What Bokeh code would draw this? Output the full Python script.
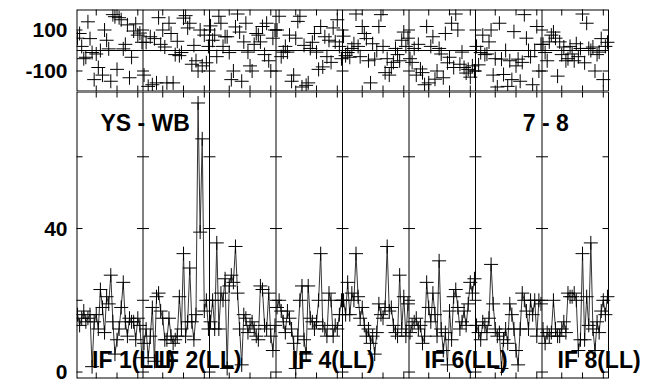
import numpy as np
from bokeh.plotting import figure
from bokeh.models import Range1d, LinearAxis, FixedTicker, Label, Span
from bokeh.layouts import column
from bokeh.embed import file_html
from bokeh.resources import INLINE

# ---------------- data ----------------
n_if = 8
n_chan = 32
channels = list(range(1, n_chan + 1))

amp_if1 = [16, 13, 15, 17, 14, 15, 16, 1.5, 14, 16, 12, 23, 18, 11, 21, 19, 27, 14, 5, 9, 12, 18, 25, 14, 10, 15, 14, 14, 9, 15, 13, 4]
amp_if2 = [8, 12, 4, 10, 18, 3, 21, 22, 17, 15, 9, 9, 15, 10, 8, 9, 10, 21, 12, 33, 10, 14, 29, 14, 9, 16, 75, 39, 65, 17, 20, 12]
amp_if3 = [14, 20, 12, 36, 12, 22, 20, 26, 1, 24, 27, 25, 35, 22, 12, 2, 16, 15, 11, 13, 14, 12, 10, 9, 24, 23, 13, 12, 22, 10, 6, 13]
amp_if4 = [18, 20, 17, 14, 11, 17, 15, 12, 8, 1, 10, 20, 24, 9, 5, 24, 15, 14, 12, 14, 20, 33, 13, 12, 10, 22, 20, 10, 13, 12, 16, 20]
amp_if5 = [20, 16, 25, 16, 22, 20, 33, 21, 15, 18, 13, 10, 12, 8, 10, 5, 11, 19, 16, 15, 18, 35, 17, 18, 13, 11, 10, 27, 12, 21, 10, 19]
amp_if6 = [11, 13, 14, 15, 12, 13, 8, 10, 25, 18, 14, 22, 16, 10, 31, 12, 6, 11, 2, 17, 9, 21, 23, 18, 12, 14, 17, 13, 19, 25, 22, 26]
amp_if7 = [13, 11, 9, 14, 13, 11, 15, 30, 19, 12, 10, 11, 1, 9, 12, 8, 19, 16, 12, 6, 2, 12, 22, 20, 17, 12, 20, 16, 20, 10, 20, 19]
amp_if8 = [12, 8, 11, 10, 11, 20, 12, 10, 10, 12, 14, 11, 22, 21, 21, 22, 20, 6, 9, 33, 9, 21, 13, 36, 12, 6, 14, 11, 17, 20, 16, 21]

phase_if1 = [60, 83, 20, -40, -33, 140, 58, -10, -142, -17, -83, 0, -120, 100, 50, 8, -150, 175, 165, -92, 160, 150, 8, 30, 125, -133, -33, 95, 130, 75, 85, 40]
phase_if2 = [-120, 40, -175, 67, -167, 58, -158, 160, 30, 100, 17, -158, 133, 83, -158, -20, 45, -25, -10, 158, 170, 110, 133, -67, 25, -50, -100, 100, -75, 75, -60, 20]
phase_if3 = [120, 50, 75, -30, 167, 133, 20, 67, 67, -10, -142, -100, 115, 178, 90, -150, 42, 133, -8, -75, -100, 30, 83, 75, 42, 117, -20, 133, -50, -100, 60, 100]
phase_if4 = [100, 167, -30, -8, 20, -8, 75, -150, -120, 60, 142, 167, -178, 25, -170, -158, 10, 40, 83, -8, -92, 117, -80, 67, -30, 50, -58, 110, 42, 150, 20, -40]
phase_if5 = [70, -25, -10, -33, 10, 33, 178, 20, -30, 117, 83, 58, -50, -158, 33, -42, 0, 117, 175, 20, -108, -40, -120, -83, -58, 10, -20, -50, 50, 90, 20, 60]
phase_if6 = [-40, -58, 10, -120, 30, -90, -108, -167, 117, -158, 20, 67, -140, -100, 10, -17, -133, 83, -60, -33, 133, -83, 178, 100, -67, -8, -83, -110, -92, -130, -75, -100]
phase_if7 = [20, -70, -10, 75, -20, -17, 42, 100, -120, -40, -178, 133, -42, -117, 0, -175, -50, -142, 92, -75, -42, -150, -58, 175, 60, 0, -30, -167, 0, 117, -100, 30]
phase_if8 = [30, -10, -50, 42, 75, 90, 60, -125, 42, -20, 17, -50, -40, 20, -17, -50, 33, -30, 10, 178, -60, 133, 10, 0, 17, -100, -20, -8, 58, -142, 20, 40]

amp_by_if = [amp_if1, amp_if2, amp_if3, amp_if4, amp_if5, amp_if6, amp_if7, amp_if8]
phase_by_if = [phase_if1, phase_if2, phase_if3, phase_if4, phase_if5, phase_if6, phase_if7, phase_if8]

if_label_numbers = [1, 2, 4, 6, 8]
if_label_texts = ["IF 1(LL)", "IF 2(LL)", "IF 4(LL)", "IF 6(LL)", "IF 8(LL)"]
baseline_text = "YS - WB"
time_text = "7 - 8"

amp_tick_values = [0, 20, 40, 60]
amp_tick_labels = [0, 40]
phase_tick_values = [-100, 100]
phase_tick_labels = [-100, 100]
chan_tick_values = [10, 20, 30]

# ---------------- layout ----------------
FONT = "Liberation Sans"
W = 645
LEFT = 76
FRAME_W = 532          # pixel width of the 8 IF boxes
X0, X1 = 0.5, n_if * n_chan + 0.5
PX_PER_CH = FRAME_W / (X1 - X0)
# the plotting frame runs on to the page edge so the last label is not cut;
# the IF boxes themselves end at X1
X_END = X1 + (W - LEFT - FRAME_W) / PX_PER_CH
AMP_Y0, AMP_Y1 = -1.8, 78.2
PH_Y0, PH_Y1 = -200, 200

x_range = Range1d(X0, X_END)
boundaries = [k * n_chan + 0.5 for k in range(n_if + 1)]
chan_tick_x = [k * n_chan + c for k in range(n_if) for c in chan_tick_values]


def gx(k):
    return [k * n_chan + c for c in channels]


def make_fig(height, y0, y1, top, bottom, label_ticks, tick_values):
    p = figure(width=W, height=height, x_range=x_range, y_range=Range1d(y0, y1),
               output_backend="svg", toolbar_location=None,
               x_axis_location=None, y_axis_location=None,
               min_border_left=LEFT, min_border_right=0,
               min_border_top=top, min_border_bottom=bottom)
    p.xgrid.grid_line_color = None
    p.ygrid.grid_line_color = None
    p.outline_line_color = None
    p.background_fill_color = "white"
    p.border_fill_color = "white"
    ax = LinearAxis(ticker=FixedTicker(ticks=label_ticks))
    ax.major_label_overrides = {v: str(v) for v in label_ticks}
    ax.major_tick_in = 0
    ax.major_tick_out = 0
    ax.minor_tick_line_color = None
    ax.axis_line_color = None
    ax.major_label_standoff = 9
    ax.major_label_text_font = FONT
    ax.major_label_text_font_style = "bold"
    ax.major_label_text_font_size = "21px"
    ax.major_label_text_color = "black"
    p.add_layout(ax, "left")
    # box edges (top, bottom, left) sit on the frame edge: width 2 gives 1 visible px
    p.segment(x0=[X0, X0, X0], y0=[y0, y1, y0], x1=[X1, X1, X0], y1=[y0, y1, y1],
              line_color="black", line_width=2)
    # IF boundaries and right edge of the box
    for b in boundaries[1:]:
        p.add_layout(Span(location=b, dimension="height", line_color="black", line_width=1))
    # y ticks at every IF boundary (both sides) and inward at left / right edges
    tx = [b for b in boundaries[:-1] for v in tick_values]
    ty = [v for b in boundaries[:-1] for v in tick_values]
    p.scatter(tx, ty, marker="dash", size=12, line_color="black", line_width=1)
    p.segment(x0=[X1 - 6 / PX_PER_CH] * len(tick_values), y0=tick_values,
              x1=[X1] * len(tick_values), y1=tick_values, line_color="black", line_width=1)
    # channel ticks, inward at top and bottom of each IF box
    p.scatter(chan_tick_x + chan_tick_x, [y0] * len(chan_tick_x) + [y1] * len(chan_tick_x),
              marker="dash", angle=np.pi / 2, size=12, line_color="black", line_width=1)
    return p


# phase panel
ph = make_fig(91, PH_Y0, PH_Y1, 9, 0, phase_tick_labels, phase_tick_values)
ph.segment(x0=[X0], y0=[0], x1=[X1], y1=[0], line_color="black", line_width=1)
for k in range(n_if):
    ph.scatter(gx(k), phase_by_if[k], marker="cross", size=14, line_color="black", line_width=1)

# amplitude panel
am = make_fig(291, AMP_Y0, AMP_Y1, 0, 4, amp_tick_labels, amp_tick_values)
for k in range(n_if):
    am.line(gx(k), amp_by_if[k], line_color="#333333", line_width=1)
    am.scatter(gx(k), amp_by_if[k], marker="cross", size=14, line_color="black", line_width=1)

for num, txt in zip(if_label_numbers, if_label_texts):
    am.add_layout(Label(x=(num - 1) * n_chan + 8, y=3.3, text=txt, text_font=FONT,
                        text_font_style="bold", text_font_size="23px", text_color="black",
                        text_align="left", text_baseline="alphabetic"))
am.add_layout(Label(x=12, y=69.3, text=baseline_text, text_font=FONT, text_font_style="bold",
                    text_font_size="23px", text_color="black", text_align="left",
                    text_baseline="alphabetic"))
am.add_layout(Label(x=237.4, y=69.3, text=time_text, text_font=FONT, text_font_style="bold",
                    text_font_size="23px", text_color="black", text_align="right",
                    text_baseline="alphabetic"))

layout = column(ph, am, spacing=0)
open("out.html", "w").write(file_html(layout, INLINE))
